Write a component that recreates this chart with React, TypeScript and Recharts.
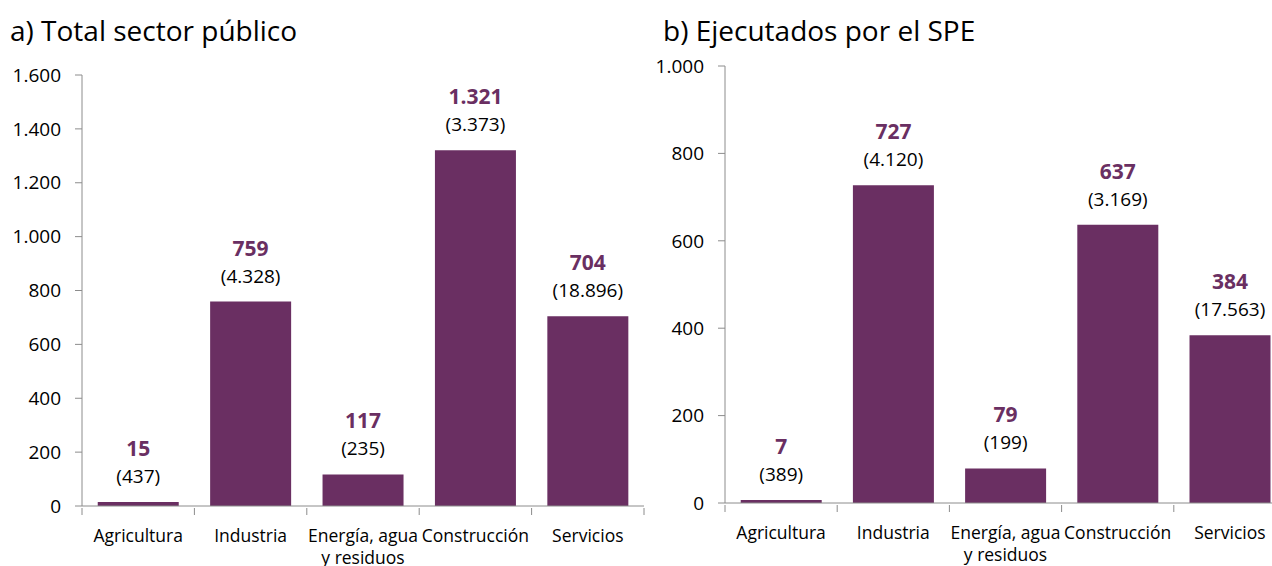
import React from 'react';
import { BarChart, Bar, XAxis, YAxis, LabelList } from 'recharts';

const categories = ['Agricultura', 'Industria', 'Energía, agua y residuos', 'Construcción', 'Servicios'];
const totalValues = [15, 759, 117, 1321, 704];
const totalCounts = [437, 4328, 235, 3373, 18896];
const speValues = [7, 727, 79, 637, 384];
const speCounts = [389, 4120, 199, 3169, 17563];
const totalTicks = [0, 200, 400, 600, 800, 1000, 1200, 1400, 1600];
const speTicks = [0, 200, 400, 600, 800, 1000];

const BAR_COLOR = '#6a2f62';
const AXIS_COLOR = '#8c8c8c';
const FONT = '"Open Sans", "Noto Sans", sans-serif';

const fmt = (n: number) => String(n).replace(/\B(?=(\d{3})+(?!\d))/g, '.');

// wrap long category names onto two lines
const wrap = (s: string) => {
  if (s.length <= 14) return [s];
  const cut = s.lastIndexOf(' ', 14);
  return [s.slice(0, cut), s.slice(cut + 1)];
};

type PanelProps = {
  title: string;
  values: number[];
  counts: number[];
  ticks: number[];
  left: number;
  width: number;
  yWidth: number;
  top: number;
  plotW: number;
  plotH: number;
  titleX: number;
};

function Panel({ title, values, counts, ticks, left, width, yWidth, top, plotW, plotH, titleX }: PanelProps) {
  const data = categories.map((name, i) => ({ name, value: values[i], count: counts[i] }));
  const band = plotW / categories.length;
  const height = 566;
  const xHeight = height - top - plotH;

  const XTick = (props: any) => {
    const { x, y, payload, index } = props;
    const lines = wrap(payload.value);
    return (
      <g>
        <line x1={x - band / 2} x2={x - band / 2} y1={y} y2={y + 7} stroke={AXIS_COLOR} />
        {index === categories.length - 1 && (
          <line x1={x + band / 2} x2={x + band / 2} y1={y} y2={y + 7} stroke={AXIS_COLOR} />
        )}
        {lines.map((l, i) => (
          <text key={i} x={x} y={y + 34 + i * 22} textAnchor="middle" fontSize={17.5} fill="#000" fontFamily={FONT}>
            {l}
          </text>
        ))}
      </g>
    );
  };

  const renderLabel = (props: any) => {
    const vb = props.viewBox ?? props;
    const x = vb.x + vb.width / 2;
    const y = vb.y;
    const idx = props.index;
    return (
      <g>
        <text x={x} y={y - 54} textAnchor="middle" dominantBaseline="central" fontSize={21} fontWeight="bold" fill={BAR_COLOR} fontFamily={FONT}>
          {fmt(values[idx])}
        </text>
        <text x={x} y={y - 26} textAnchor="middle" dominantBaseline="central" fontSize={19} fill="#000" fontFamily={FONT}>
          ({fmt(counts[idx])})
        </text>
      </g>
    );
  };

  return (
    <>
      <div style={{ position: 'absolute', left: titleX, top: 13, fontSize: 28, lineHeight: '34px', fontFamily: FONT, color: '#000', whiteSpace: 'nowrap' }}>
        {title}
      </div>
      <div style={{ position: 'absolute', left, top: 0 }}>
        <BarChart
          width={width}
          height={height}
          data={data}
          margin={{ top, right: width - yWidth - plotW, bottom: 0, left: 0 }}
          barCategoryGap="14%"
        >
          <XAxis
            dataKey="name"
            interval={0}
            height={xHeight}
            tickSize={0}
            tickLine={false}
            axisLine={{ stroke: AXIS_COLOR }}
            tick={<XTick />}
          />
          <YAxis
            width={yWidth}
            domain={[ticks[0], ticks[ticks.length - 1]]}
            ticks={ticks}
            interval={0}
            tickFormatter={fmt}
            tickSize={7}
            tickMargin={14}
            tickLine={{ stroke: AXIS_COLOR }}
            axisLine={{ stroke: AXIS_COLOR }}
            tick={{ fill: '#000', fontSize: 19, fontFamily: FONT }}
          />
          <Bar dataKey="value" fill={BAR_COLOR} isAnimationActive={false}>
            <LabelList dataKey="value" content={renderLabel} />
          </Bar>
        </BarChart>
      </div>
    </>
  );
}

export default function App() {
  return (
    <div style={{ position: 'absolute', left: 0, top: 0, width: 1272, height: 566, overflow: 'hidden', background: '#fff' }}>
      <Panel
        title="a) Total sector público"
        values={totalValues}
        counts={totalCounts}
        ticks={totalTicks}
        left={0}
        width={650}
        yWidth={82}
        top={75}
        plotW={562}
        plotH={431}
        titleX={10}
      />
      <Panel
        title="b) Ejecutados por el SPE"
        values={speValues}
        counts={speCounts}
        ticks={speTicks}
        left={640}
        width={660}
        yWidth={85}
        top={66}
        plotW={561}
        plotH={437}
        titleX={663}
      />
    </div>
  );
}
